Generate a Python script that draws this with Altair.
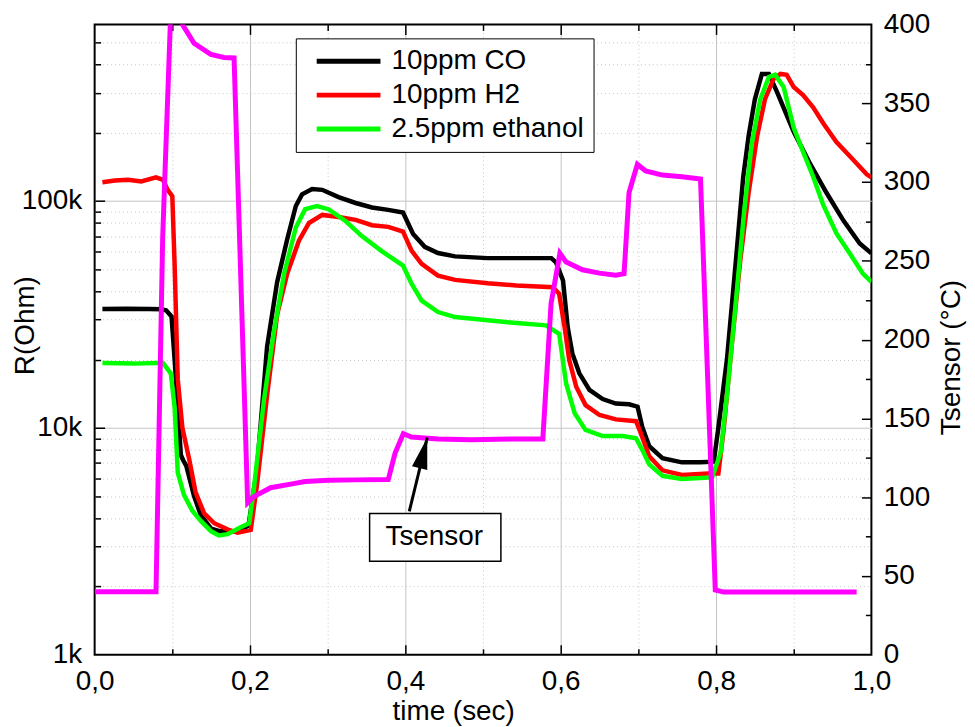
import altair as alt
import pandas as pd

FONT = "Liberation Sans"
FS = 28
W, H = 780, 633

# ---------------- data ----------------
series_names = ["10ppm CO", "10ppm H2", "2.5ppm ethanol"]
series_colors = ["#000000", "#ff0000", "#00ff00"]

co_t = [0.01, 0.04, 0.07, 0.085, 0.092, 0.099, 0.103, 0.111, 0.114, 0.118, 0.128, 0.137,
        0.150, 0.162, 0.180, 0.198, 0.209, 0.222, 0.235, 0.248, 0.259, 0.267, 0.280, 0.293,
        0.314, 0.336, 0.357, 0.378, 0.397, 0.410, 0.425, 0.442, 0.464, 0.506, 0.543, 0.588,
        0.594, 0.603, 0.609, 0.615, 0.624, 0.637, 0.654, 0.671, 0.688, 0.699, 0.705, 0.714,
        0.731, 0.756, 0.780, 0.797, 0.803, 0.814, 0.825, 0.835, 0.842, 0.850, 0.859, 0.868,
        0.878, 0.900, 0.921, 0.942, 0.964, 0.985, 1.000]
co_k = [33.4, 33.5, 33.4, 33.3, 33.0, 31.0, 20.0, 7.6, 7.2, 6.8, 5.0, 4.1,
        3.6, 3.5, 3.5, 3.7, 6.6, 22.8, 44.0, 68.0, 95.0, 107, 113, 112,
        104, 98.0, 93.6, 91.4, 89.0, 71.5, 62.8, 59.0, 57.0, 56.0, 56.0, 56.0,
        53.6, 44.6, 27.8, 21.3, 17.4, 14.7, 13.4, 12.8, 12.7, 12.4, 10.1, 8.3,
        7.36, 7.05, 7.05, 7.1, 10.0, 20.0, 52.0, 128, 194, 281, 363, 363,
        305, 202, 146, 109, 82.0, 65.0, 58.8]

h2_t = [0.01, 0.026, 0.043, 0.06, 0.079, 0.088, 0.094, 0.100, 0.103, 0.107, 0.113, 0.122,
        0.130, 0.141, 0.154, 0.171, 0.184, 0.201, 0.209, 0.222, 0.235, 0.248, 0.263, 0.276,
        0.293, 0.314, 0.336, 0.357, 0.378, 0.397, 0.408, 0.421, 0.442, 0.464, 0.506, 0.543,
        0.590, 0.598, 0.605, 0.611, 0.620, 0.632, 0.650, 0.671, 0.697, 0.703, 0.714, 0.731,
        0.756, 0.790, 0.803, 0.810, 0.820, 0.831, 0.842, 0.853, 0.863, 0.874, 0.883, 0.891,
        0.900, 0.912, 0.925, 0.938, 0.955, 0.972, 0.994, 1.000]
h2_k = [121, 123, 124, 122, 127, 124, 112, 105, 52, 16.4, 10.0, 7.2,
        5.2, 4.2, 3.8, 3.57, 3.45, 3.55, 5.6, 13.9, 31.6, 47.9, 66.8, 80.0,
        86.8, 85.0, 82.6, 78.2, 76.9, 73.3, 60.4, 52.8, 46.9, 44.9, 43.4, 42.4,
        41.7, 39.0, 27.8, 19.9, 15.2, 12.6, 11.4, 10.9, 10.7, 9.5, 7.5, 6.5,
        6.2, 6.3, 6.3, 10.0, 22.8, 54.0, 109, 194, 281, 345, 363, 360,
        318, 293, 259, 220, 182, 158, 131, 127]

et_t = [0.01, 0.05, 0.08, 0.088, 0.098, 0.103, 0.107, 0.115, 0.126, 0.137, 0.150, 0.160,
        0.171, 0.188, 0.199, 0.205, 0.218, 0.231, 0.244, 0.259, 0.271, 0.286, 0.301, 0.323,
        0.344, 0.370, 0.397, 0.408, 0.421, 0.442, 0.464, 0.506, 0.543, 0.581, 0.598, 0.607,
        0.618, 0.632, 0.654, 0.680, 0.697, 0.705, 0.714, 0.731, 0.756, 0.795, 0.806, 0.814,
        0.825, 0.836, 0.846, 0.857, 0.868, 0.876, 0.887, 0.900, 0.912, 0.925, 0.938, 0.955,
        0.972, 0.989, 1.000]
et_k = [19.3, 19.2, 19.3, 19.3, 17.4, 12.3, 6.35, 5.07, 4.3, 3.88, 3.5, 3.36,
        3.4, 3.65, 3.8, 5.4, 13.3, 26.8, 47.9, 76.4, 92.0, 95.0, 92.0, 81.6,
        70.0, 60.0, 51.9, 43.2, 36.4, 32.4, 30.8, 29.8, 29.0, 28.3, 26.0, 15.7,
        11.6, 9.8, 9.2, 9.2, 9.0, 8.0, 6.9, 6.15, 5.96, 6.05, 7.8, 13.9,
        34.4, 88.7, 179, 281, 352, 360, 318, 210, 165, 128, 96.0, 72.0,
        58.8, 47.9, 44.0]

ts_t = [0.0, 0.079, 0.0876, 0.0974, 0.104, 0.113, 0.128, 0.1496, 0.1667, 0.1795, 0.197, 0.205,
        0.2265, 0.256, 0.271, 0.301, 0.3355, 0.378, 0.3868, 0.3974, 0.408, 0.442, 0.485, 0.543,
        0.577, 0.5876, 0.599, 0.607, 0.628, 0.6496, 0.671, 0.6816, 0.688, 0.6987, 0.7094, 0.731,
        0.756, 0.780, 0.799, 0.810, 0.981]
ts_c = [40, 40, 265, 400, 420, 400, 388, 381, 379, 378.7, 96.5, 100.4,
        106, 108.6, 110, 110.8, 111, 111.2, 128, 140.3, 138.2, 136.9, 136.5, 137,
        137, 222.9, 254.8, 249.2, 244.3, 242.2, 240.8, 241.8, 293.4, 311.3, 307, 304.4,
        303.3, 301.9, 41.1, 39.8, 39.8]

# axis tick values
x_all = [0.0, 0.2, 0.4, 0.6, 0.8, 1.0]
x_major = [0.2, 0.4, 0.6, 0.8]
x_minor = [0.1, 0.3, 0.5, 0.7, 0.9]
r_labels = [1000, 10000, 100000]
r_major = [10000, 100000]
r_minor = [2000, 3000, 4000, 5000, 6000, 7000, 8000, 9000,
           20000, 30000, 40000, 50000, 60000, 70000, 80000, 90000,
           200000, 300000, 400000, 500000]
t_labels = [0, 50, 100, 150, 200, 250, 300, 350, 400]
t_major = [50, 100, 150, 200, 250, 300, 350]
t_minor = [25, 75, 125, 175, 225, 275, 325, 375]

# annotation ("Tsensor" callout), in data units (time, degC)
box_t = [0.354, 0.523]
box_c = [59.4, 89.7]
note_t = [0.4372]
note_c = [74.6]
note_text = ["Tsensor"]
arrow_t = [0.4051, 0.4282]
arrow_c = [91.0, 137.8]

# ---------------- tables ----------------
rows = []
for name, ts, ks in zip(series_names, [co_t, h2_t, et_t], [co_k, h2_k, et_k]):
    for t, k in zip(ts, ks):
        rows.append({"t": t, "R": k * 1000.0, "series": name})
dfR = pd.DataFrame(rows)
dfT = pd.DataFrame({"t": ts_t, "T": ts_c})
dfBox = pd.DataFrame({"t1": [box_t[0]], "t2": [box_t[1]], "c1": [box_c[0]], "c2": [box_c[1]]})
dfNote = pd.DataFrame({"t": note_t, "T": note_c, "label": note_text})
dfArrow = pd.DataFrame({"t": arrow_t, "T": arrow_c})
dfHead = pd.DataFrame({"t": [arrow_t[1]], "T": [arrow_c[1]]})

xsc = alt.Scale(domain=[0, 1], nice=False, zero=False)
ysc = alt.Scale(type="log", domain=[1000, 600000], nice=False)
tsc = alt.Scale(domain=[0, 400], nice=False, zero=False)


def grid_axis(orient, values, color, dash=None):
    kw = dict(orient=orient, values=values, labels=False, domain=False, ticks=False,
              grid=True, gridColor=color, gridWidth=1, title=None)
    if dash is not None:
        kw["gridDash"] = dash
    return alt.Axis(**kw)


def tick_axis(orient, values, size, offset):
    return alt.Axis(orient=orient, values=values, offset=offset, labels=False, domain=False,
                    grid=False, ticks=True, tickSize=size, tickWidth=1.5, tickColor="black",
                    title=None)


def r_layer(xaxis, yaxis):
    return alt.Chart(dfR).mark_line(strokeOpacity=0).encode(
        x=alt.X("t:Q", scale=xsc, axis=xaxis),
        y=alt.Y("R:Q", scale=ysc, axis=yaxis),
        detail="series:N",
    )


def t_layer(yaxis):
    return alt.Chart(dfT).mark_line(strokeOpacity=0).encode(
        x=alt.X("t:Q", scale=xsc, axis=None),
        y=alt.Y("T:Q", scale=tsc, axis=yaxis),
    )


# grids
g_major = r_layer(grid_axis("bottom", x_major, "#c4c4c4"), grid_axis("left", r_major, "#c4c4c4"))
g_minor = r_layer(grid_axis("bottom", x_minor, "#c8c8c8", [1, 3]),
                  grid_axis("left", r_minor, "#c8c8c8", [1, 3]))

# inward ticks
k1 = r_layer(tick_axis("top", x_major, 10, -H), tick_axis("right", r_major, 10, -W))
k2 = r_layer(tick_axis("top", x_minor, 6, -H), tick_axis("right", r_minor, 6, -W))
k3 = r_layer(tick_axis("bottom", x_major, 10, -H), None)
k4 = r_layer(tick_axis("bottom", x_minor, 6, -H), None)
k5 = t_layer(tick_axis("left", t_major, 10, -W))
k6 = t_layer(tick_axis("left", t_minor, 6, -W))

# resistance curves
r_lines = alt.Chart(dfR).mark_line(strokeWidth=4.5, clip=True).encode(
    x=alt.X("t:Q", scale=xsc, axis=alt.Axis(
        orient="bottom", values=x_all,
        labelExpr="replace(format(datum.value, '.1f'), '.', ',')",
        ticks=False, domain=False, grid=False, labelFlush=False,
        labelFont=FONT, labelFontSize=FS, labelColor="black", labelPadding=13,
        title="time (sec)", titleFont=FONT, titleFontSize=FS, titleFontWeight="normal",
        titleColor="black", titleBaseline="alphabetic", titleX=360, titleY=65)),
    y=alt.Y("R:Q", scale=ysc, axis=alt.Axis(
        orient="left", values=r_labels,
        labelExpr="format(datum.value / 1000, 'd') + 'k'",
        ticks=False, domain=False, grid=False, labelFlush=False, labelOverlap=False,
        labelFont=FONT, labelFontSize=FS, labelColor="black", labelPadding=13,
        title="R(Ohm)", titleFont=FONT, titleFontSize=FS, titleFontWeight="normal",
        titleColor="black", titleAngle=270, titleBaseline="middle", titleX=-69, titleY=302)),
    color=alt.Color("series:N",
                    scale=alt.Scale(domain=series_names, range=series_colors),
                    legend=alt.Legend(
                        title=None, orient="none", legendX=202, legendY=14,
                        symbolType="M-5,0H5", symbolSize=164, symbolStrokeWidth=5,
                        symbolOffset=30, labelOffset=29,
                        labelFont=FONT, labelFontSize=FS, labelColor="black", labelLimit=500,
                        padding=9, rowPadding=6,
                        strokeColor="black", fillColor="white")),
)

# sensor temperature curve
t_line = alt.Chart(dfT).mark_line(strokeWidth=5, color="#ff00ff", clip=True).encode(
    x=alt.X("t:Q", scale=xsc, axis=None),
    y=alt.Y("T:Q", scale=tsc, axis=alt.Axis(
        orient="right", values=t_labels, ticks=False, domain=False, grid=False,
        labelFlush=False, labelOverlap=False,
        labelFont=FONT, labelFontSize=FS, labelColor="black", labelPadding=12,
        title="Tsensor (°C)", titleFont=FONT, titleFontSize=FS, titleFontWeight="normal",
        titleColor="black", titleAngle=270, titleBaseline="middle", titleX=80, titleY=334)),
)

# callout
box = alt.Chart(dfBox).mark_rect(fill="white", stroke="black", strokeWidth=1.5).encode(
    x=alt.X("t1:Q", scale=xsc, axis=None), x2="t2:Q",
    y=alt.Y("c1:Q", scale=tsc, axis=None), y2="c2:Q",
)
note = alt.Chart(dfNote).mark_text(font=FONT, fontSize=FS, color="black",
                                   align="center", baseline="middle").encode(
    x=alt.X("t:Q", scale=xsc, axis=None),
    y=alt.Y("T:Q", scale=tsc, axis=None),
    text="label:N",
)
shaft = alt.Chart(dfArrow).mark_line(color="black", strokeWidth=3).encode(
    x=alt.X("t:Q", scale=xsc, axis=None),
    y=alt.Y("T:Q", scale=tsc, axis=None),
)
head = alt.Chart(dfHead).mark_point(shape="M0,0L0.5,2L-0.5,2Z", size=1000, angle=14,
                                    filled=True, color="black", opacity=1).encode(
    x=alt.X("t:Q", scale=xsc, axis=None),
    y=alt.Y("T:Q", scale=tsc, axis=None),
)

chart = alt.layer(
    g_major, g_minor, k1, k2, k3, k4, k5, k6,
    r_lines, t_line, box, shaft, head, note,
).resolve_scale(y="independent").resolve_axis(x="independent", y="independent").properties(
    width=W, height=H,
    padding={"left": 87, "top": 15, "right": 96, "bottom": 70},
    autosize=alt.AutoSizeParams(type="none"),
    background="white",
).configure_view(stroke="black", strokeWidth=2).configure_legend(strokeWidth=1)

chart.save("out.html", embed_options={"renderer": "svg", "actions": False})
